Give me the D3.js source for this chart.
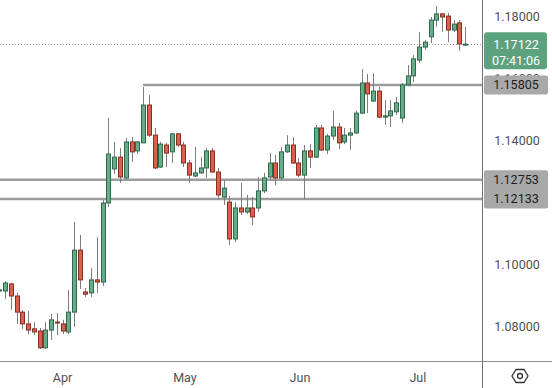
<!DOCTYPE html>
<html>
<head>
<meta charset="utf-8">
<script src="https://cdn.jsdelivr.net/npm/d3@7"></script>
<style>
  body { margin: 0; background: #fff; }
  svg { display: block; font-family: Roboto, "Noto Sans", sans-serif; }
</style>
</head>
<body>
<div id="chart"></div>
<script>
// daily candles, oldest first
var opens  = [1.0916,1.0916,1.0939,1.0900,1.0848,1.0810,1.0794,1.0787,1.0733,1.0790,1.0816,1.0810,1.0784,1.0848,1.1048,1.0913,1.0910,1.0952,1.0945,1.1200,1.1310,1.1348,1.1281,1.1397,1.1368,1.1394,1.1516,1.1419,1.1316,1.1387,1.1365,1.1423,1.1387,1.1329,1.1287,1.1297,1.1313,1.1368,1.1300,1.1219,1.1203,1.1084,1.1184,1.1171,1.1184,1.1184,1.1239,1.1284,1.1329,1.1281,1.1365,1.1387,1.1329,1.1290,1.1368,1.1348,1.1442,1.1371,1.1416,1.1445,1.1397,1.1419,1.1426,1.1490,1.1587,1.1529,1.1561,1.1477,1.1481,1.1494,1.1474,1.1581,1.1610,1.1661,1.1703,1.1736,1.1790,1.1810,1.1803,1.1758,1.1781,1.1711];
var highs  = [1.0935,1.0948,1.0942,1.0910,1.0855,1.0852,1.0816,1.0797,1.0816,1.0842,1.0845,1.0823,1.0919,1.1139,1.1097,1.0926,1.0990,1.1090,1.1210,1.1474,1.1397,1.1377,1.1410,1.1413,1.1400,1.1574,1.1548,1.1442,1.1397,1.1394,1.1426,1.1426,1.1397,1.1339,1.1381,1.1348,1.1377,1.1377,1.1313,1.1274,1.1223,1.1203,1.1265,1.1226,1.1219,1.1284,1.1297,1.1361,1.1355,1.1381,1.1419,1.1413,1.1345,1.1387,1.1390,1.1452,1.1452,1.1423,1.1497,1.1458,1.1442,1.1442,1.1497,1.1632,1.1616,1.1619,1.1574,1.1532,1.1532,1.1542,1.1587,1.1645,1.1677,1.1752,1.1726,1.1800,1.1835,1.1813,1.1813,1.1790,1.1790,1.1768];
var lows   = [1.0905,1.0890,1.0855,1.0810,1.0794,1.0777,1.0774,1.0729,1.0729,1.0758,1.0774,1.0777,1.0777,1.0800,1.0923,1.0897,1.0897,1.0910,1.0932,1.1187,1.1294,1.1265,1.1274,1.1333,1.1358,1.1394,1.1413,1.1310,1.1313,1.1316,1.1329,1.1381,1.1316,1.1265,1.1284,1.1294,1.1281,1.1297,1.1210,1.1194,1.1065,1.1074,1.1161,1.1165,1.1129,1.1171,1.1232,1.1277,1.1258,1.1274,1.1361,1.1326,1.1284,1.1210,1.1313,1.1345,1.1368,1.1358,1.1403,1.1374,1.1390,1.1371,1.1423,1.1487,1.1490,1.1526,1.1474,1.1452,1.1445,1.1484,1.1458,1.1577,1.1590,1.1652,1.1694,1.1716,1.1768,1.1752,1.1719,1.1752,1.1690,1.1710];
var closes = [1.0920,1.0942,1.0900,1.0848,1.0810,1.0790,1.0784,1.0733,1.0790,1.0823,1.0813,1.0787,1.0848,1.1048,1.0952,1.0906,1.0952,1.0945,1.1200,1.1358,1.1348,1.1284,1.1397,1.1365,1.1397,1.1516,1.1419,1.1313,1.1390,1.1361,1.1423,1.1387,1.1329,1.1290,1.1297,1.1313,1.1368,1.1300,1.1226,1.1248,1.1084,1.1184,1.1171,1.1184,1.1155,1.1239,1.1281,1.1329,1.1281,1.1365,1.1387,1.1329,1.1290,1.1368,1.1348,1.1442,1.1371,1.1416,1.1445,1.1394,1.1419,1.1426,1.1490,1.1587,1.1552,1.1561,1.1477,1.1481,1.1497,1.1523,1.1581,1.1610,1.1665,1.1703,1.1719,1.1790,1.1810,1.1800,1.1758,1.1777,1.1713,1.17122];

// price levels drawn on the chart and the candle each one starts from
var levels = [1.15805, 1.12753, 1.12133];
var levelStart = [25, 0, 0];

// 1.12000 sits fully under the level tags, so it is left out
var priceTicks = [1.08, 1.10, 1.14, 1.16, 1.18];
var monthLabels = ["Apr", "May", "Jun", "Jul"];
var monthTicks = [11, 32.3, 52.3, 72.8];

var lastPrice = 1.17122;
var countdown = "07:41:06";

var svgWidth = 552;
var svgHeight = 388;
var plotRight = 482.5;
var plotBottom = 361.5;

var svg = d3.select("#chart")
    .append("svg")
    .attr("width", svgWidth)
    .attr("height", svgHeight);

var x = d3.scaleLinear()
    .domain([0, opens.length - 1])
    .range([-0.75, 465]);

var y = d3.scaleLinear()
    .domain([1.08, 1.18])
    .range([327, 17]);

var candles = opens.map(function(o, i) {
    return { i: i, o: o, h: highs[i], l: lows[i], c: closes[i] };
});

// price axis labels (1.16000 ends up mostly under the tags)
svg.append("g").selectAll("text")
    .data(priceTicks)
    .enter()
    .append("text")
    .attr("x", 517)
    .attr("y", d => y(d))
    .attr("dy", "0.35em")
    .attr("text-anchor", "middle")
    .attr("font-size", "12.5px")
    .attr("fill", "#505050")
    .text(d => d3.format(".5f")(d));

var plot = svg.append("g");

// dotted last price line
plot.append("line")
    .attr("x1", 0)
    .attr("x2", plotRight)
    .attr("y1", Math.round(y(lastPrice)) + 0.5)
    .attr("y2", Math.round(y(lastPrice)) + 0.5)
    .attr("stroke", "#9a9a9a")
    .attr("stroke-dasharray", "1,2");

// horizontal levels
plot.selectAll(".level")
    .data(levels)
    .enter()
    .append("line")
    .attr("class", "level")
    .attr("x1", (d, i) => levelStart[i] === 0 ? 0 : x(levelStart[i]))
    .attr("x2", plotRight)
    .attr("y1", d => y(d))
    .attr("y2", d => y(d))
    .attr("stroke", "#9c9c9c")
    .attr("stroke-width", 2.5);

// wicks
plot.selectAll(".wick")
    .data(candles)
    .enter()
    .append("line")
    .attr("class", "wick")
    .attr("x1", d => Math.round(x(d.i)) + 0.5)
    .attr("x2", d => Math.round(x(d.i)) + 0.5)
    .attr("y1", d => y(d.h))
    .attr("y2", d => y(d.l))
    .attr("stroke", "#7d7d7d")
    .attr("stroke-width", 1);

// bodies
plot.selectAll(".body")
    .data(candles)
    .enter()
    .append("rect")
    .attr("class", "body")
    .attr("x", d => Math.round(x(d.i)) - 1.5)
    .attr("width", 4)
    .attr("y", d => y(Math.max(d.o, d.c)))
    .attr("height", d => Math.max(1, Math.abs(y(d.o) - y(d.c))))
    .attr("fill", d => d.c >= d.o ? "#68ab88" : "#d8604f")
    .attr("stroke", d => d.c >= d.o ? "#2f6a4c" : "#8c2c20")
    .attr("stroke-width", 1);

// axis borders
svg.append("line")
    .attr("x1", 0).attr("x2", svgWidth)
    .attr("y1", plotBottom).attr("y2", plotBottom)
    .attr("stroke", "#8c8c8c");

svg.append("line")
    .attr("x1", plotRight).attr("x2", plotRight)
    .attr("y1", 0).attr("y2", svgHeight)
    .attr("stroke", "#6e6e6e");

// month labels
svg.append("g").selectAll("text")
    .data(monthLabels)
    .enter()
    .append("text")
    .attr("x", (d, i) => x(monthTicks[i]))
    .attr("y", 378)
    .attr("dy", "0.35em")
    .attr("text-anchor", "middle")
    .attr("font-size", "12.5px")
    .attr("fill", "#505050")
    .text(d => d);

// last price tag
var yLast = y(lastPrice);
svg.append("rect")
    .attr("x", 484)
    .attr("y", yLast - 12)
    .attr("width", 63)
    .attr("height", 37)
    .attr("rx", 3)
    .attr("fill", "#5da27f");

svg.append("text")
    .attr("x", 516)
    .attr("y", yLast)
    .attr("dy", "0.35em")
    .attr("text-anchor", "middle")
    .attr("font-size", "12.5px")
    .attr("fill", "#fff")
    .text(d3.format(".5f")(lastPrice));

svg.append("text")
    .attr("x", 516)
    .attr("y", yLast + 16)
    .attr("dy", "0.35em")
    .attr("text-anchor", "middle")
    .attr("font-size", "12.5px")
    .attr("fill", "#fff")
    .text(countdown);

// level tags; the two close ones share one box
var tagBoxes = [
    { top: levels[0], bottom: levels[0] },
    { top: levels[1], bottom: levels[2] }
];
svg.selectAll(".tag")
    .data(tagBoxes)
    .enter()
    .append("rect")
    .attr("class", "tag")
    .attr("x", 484)
    .attr("y", d => y(d.top) - 9.5)
    .attr("width", 64)
    .attr("height", d => y(d.bottom) - y(d.top) + 19)
    .attr("rx", 2)
    .attr("fill", "#a9a9a9");

svg.selectAll(".tagText")
    .data(levels)
    .enter()
    .append("text")
    .attr("class", "tagText")
    .attr("x", 516)
    .attr("y", d => y(d))
    .attr("dy", "0.35em")
    .attr("text-anchor", "middle")
    .attr("font-size", "12.5px")
    .attr("fill", "#1e1e1e")
    .text(d => d3.format(".5f")(d));

// settings icon
var hex = d3.range(6).map(function(k) {
    var a = Math.PI / 3 * k;
    return [520 + 8 * Math.cos(a), 376 + 7.5 * Math.sin(a)];
});
svg.append("polygon")
    .attr("points", hex.map(p => p.join(",")).join(" "))
    .attr("fill", "none")
    .attr("stroke", "#333")
    .attr("stroke-width", 1.3);
svg.append("circle")
    .attr("cx", 520).attr("cy", 376).attr("r", 2.5)
    .attr("fill", "none")
    .attr("stroke", "#333")
    .attr("stroke-width", 1.3);
</script>
</body>
</html>
